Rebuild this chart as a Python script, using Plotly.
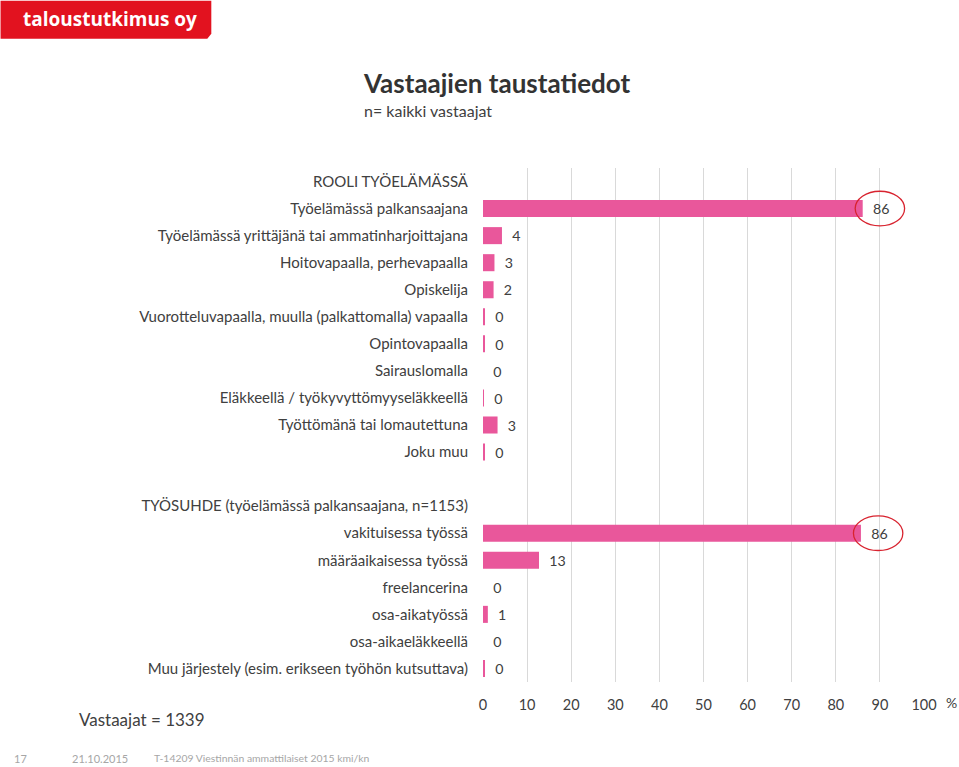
import plotly.graph_objects as go

# ---- data ----
categories = [
    "ROOLI TYÖELÄMÄSSÄ",
    "Työelämässä palkansaajana",
    "Työelämässä yrittäjänä tai ammatinharjoittajana",
    "Hoitovapaalla, perhevapaalla",
    "Opiskelija",
    "Vuorotteluvapaalla, muulla (palkattomalla) vapaalla",
    "Opintovapaalla",
    "Sairauslomalla",
    "Eläkkeellä / työkyvyttömyyseläkkeellä",
    "Työttömänä tai lomautettuna",
    "Joku muu",
    " ",
    "TYÖSUHDE (työelämässä palkansaajana, n=1153)",
    "vakituisessa työssä",
    "määräaikaisessa työssä",
    "freelancerina",
    "osa-aikatyössä",
    "osa-aikaeläkkeellä",
    "Muu järjestely (esim. erikseen työhön kutsuttava)",
]
values = [None, 86.1, 4.3, 2.6, 2.4, 0.3, 0.3, 0.0, 0.1, 3.3, 0.3,
          None, None, 85.7, 12.7, 0.0, 1.1, 0.0, 0.3]
x_ticks = [0, 10, 20, 30, 40, 50, 60, 70, 80, 90, 100]
highlight = ["Työelämässä palkansaajana", "vakituisessa työssä"]

PINK = "#E9579B"
TXT = "#404040"
FONT = "Lato"

W, H = 959, 767
L, R, T, B = 483, 34.5, 167.5, 84.5
PW, PH = W - L - R, H - T - B


def px(x):
    return (x - L) / PW


def py(y):
    return (H - B - y) / PH


labels = ["" if v is None else "\u00a0\u00a0" + f"{v:.0f}" for v in values]
xvals = [0 if v is None else v for v in values]

fig = go.Figure()
fig.add_trace(go.Bar(
    y=categories, x=xvals, orientation="h",
    marker=dict(color=PINK, line=dict(width=0)),
    width=0.63,
    text=labels, textposition="outside", cliponaxis=False,
    textfont=dict(family=FONT, size=15, color=TXT),
    hoverinfo="skip",
))

shapes = []
for cat in highlight:
    i = categories.index(cat)
    v = values[i]
    cx = v + 3.9
    shapes.append(dict(
        type="circle", xref="x", yref="y",
        x0=cx - 5.6, x1=cx + 5.6, y0=i - 0.64, y1=i + 0.64,
        line=dict(color="#D8232F", width=1.3), layer="above",
    ))

# logo
shapes.append(dict(
    type="path", xref="paper", yref="paper",
    path=f"M {px(0)},{py(0)} L {px(211)},{py(0)} L {px(211)},{py(33)} "
         f"L {px(207)},{py(38)} L {px(0)},{py(38)} Z",
    fillcolor="#E2121F", line=dict(width=0), layer="above",
))

annotations = [
    dict(text="taloustutkimus oy", x=px(20), y=py(18), xanchor="left", yanchor="middle",
         font=dict(family="Open Sans", size=19, color="white", weight="bold")),
    dict(text="Vastaajien taustatiedot", x=px(361), y=py(82), xanchor="left", yanchor="middle",
         font=dict(family=FONT, size=26, color="#333333", weight="bold")),
    dict(text="n= kaikki vastaajat", x=px(362), y=py(110), xanchor="left", yanchor="middle",
         font=dict(family=FONT, size=16, color=TXT)),
    dict(text="%", x=px(945), y=py(703), xanchor="left", yanchor="middle",
         font=dict(family=FONT, size=14, color=TXT)),
    dict(text="Vastaajat = 1339", x=px(77), y=py(720), xanchor="left", yanchor="middle",
         font=dict(family=FONT, size=17, color=TXT)),
    dict(text="17", x=px(11), y=py(759), xanchor="left", yanchor="middle",
         font=dict(family=FONT, size=11, color="#A6A6A6")),
    dict(text="21.10.2015", x=px(70), y=py(759), xanchor="left", yanchor="middle",
         font=dict(family=FONT, size=11, color="#A6A6A6")),
    dict(text="T-14209 Viestinnän ammattilaiset 2015 kmi/kn", x=px(152), y=py(759),
         xanchor="left", yanchor="middle",
         font=dict(family=FONT, size=10.4, color="#A6A6A6")),
]
for a in annotations:
    a.update(xref="paper", yref="paper", showarrow=False)

fig.update_layout(
    width=W, height=H,
    margin=dict(l=L, r=R, t=T, b=B, pad=0),
    paper_bgcolor="white", plot_bgcolor="white",
    showlegend=False,
    bargap=0.37,
    font=dict(family=FONT, color=TXT),
    xaxis=dict(
        range=[0, 100], tickvals=x_ticks, showgrid=True, gridcolor="#D9D9D9", gridwidth=1,
        zeroline=False, showline=False, ticks="", fixedrange=True,
        tickfont=dict(family=FONT, size=14.5, color=TXT), ticklabelstandoff=12,
    ),
    yaxis=dict(
        categoryorder="array", categoryarray=categories, autorange=False,
        range=[len(categories) - 0.5, -0.5], showgrid=False, zeroline=False,
        showline=False, ticks="", fixedrange=True,
        tickfont=dict(family=FONT, size=15, color=TXT), ticklabelstandoff=14,
    ),
    shapes=shapes,
    annotations=annotations,
)

fig.write_html(
    "out.html",
    config={"displayModeBar": False},
    post_script="document.body.style.margin='0px';document.body.style.overflow='hidden';",
)
